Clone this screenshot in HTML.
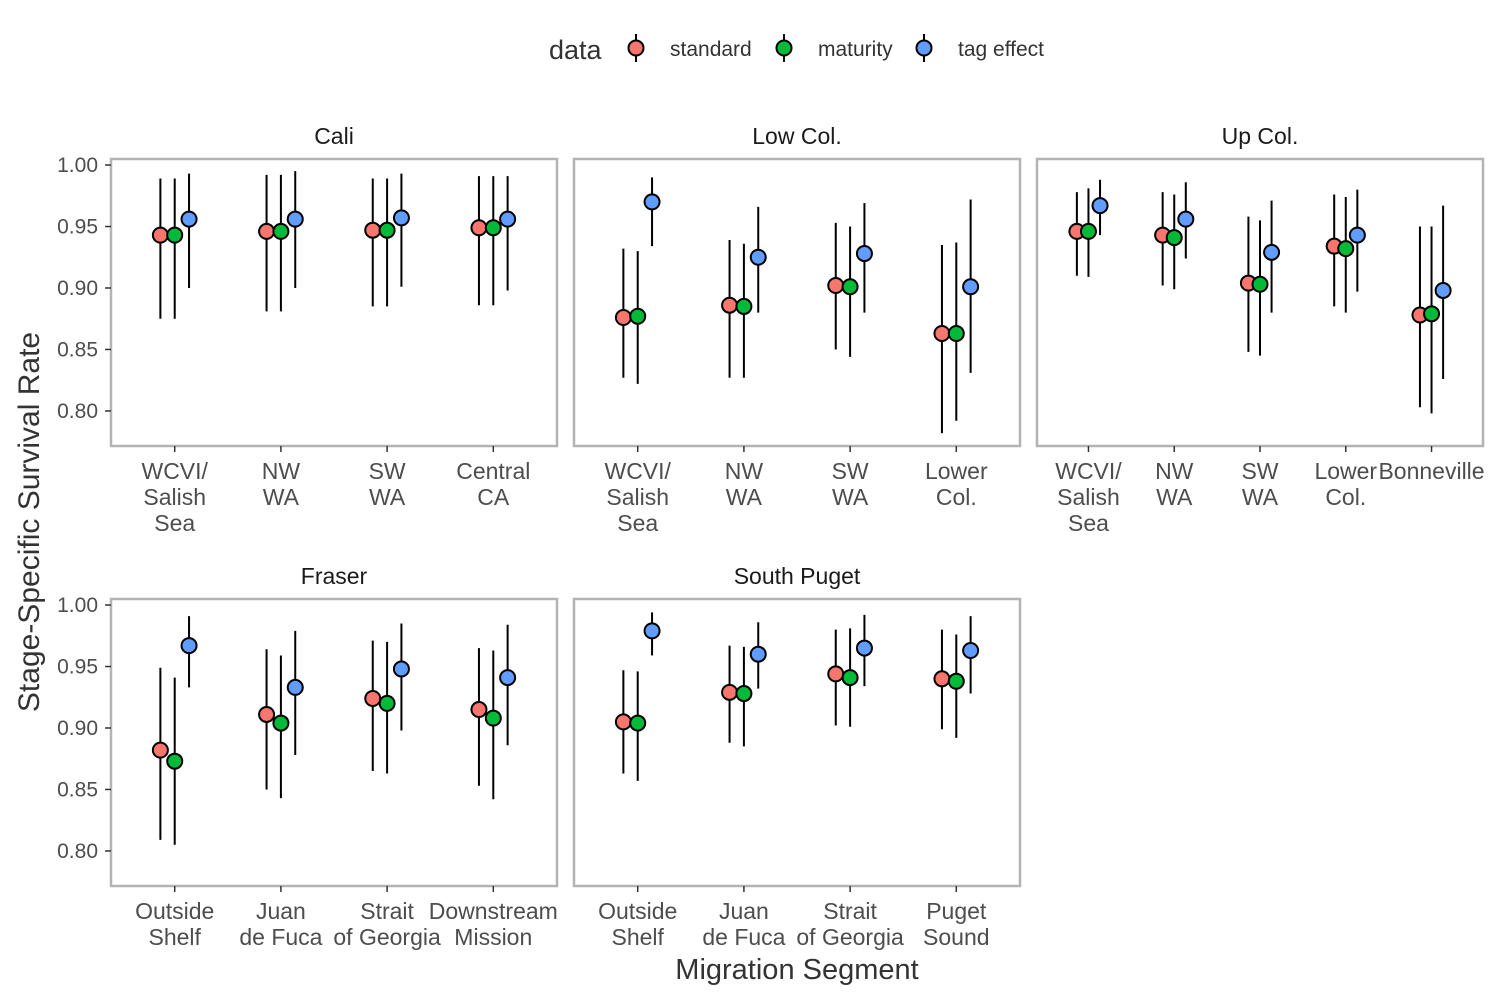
<!DOCTYPE html>
<html><head><meta charset="utf-8"><style>
body{margin:0;background:#fff;}
svg{display:block;font-family:"Liberation Sans",sans-serif;}
</style></head><body>
<svg id="chart" width="1500" height="1000"></svg>
<script>
const seriesNames=["standard","maturity","tag effect"];
const seriesColors=["#F8766D","#00BA38","#619CFF"];
const panelTitles=["Cali","Low Col.","Up Col.","Fraser","South Puget"];
const panelCategories=[
 [["WCVI/","Salish","Sea"],["NW","WA"],["SW","WA"],["Central","CA"]],
 [["WCVI/","Salish","Sea"],["NW","WA"],["SW","WA"],["Lower","Col."]],
 [["WCVI/","Salish","Sea"],["NW","WA"],["SW","WA"],["Lower","Col."],["Bonneville"]],
 [["Outside","Shelf"],["Juan","de Fuca"],["Strait","of Georgia"],["Downstream","Mission"]],
 [["Outside","Shelf"],["Juan","de Fuca"],["Strait","of Georgia"],["Puget","Sound"]]
];
const caliValues=[
 [[0.943,0.875,0.989],[0.943,0.875,0.989],[0.956,0.900,0.993]],
 [[0.946,0.881,0.992],[0.946,0.881,0.992],[0.956,0.900,0.995]],
 [[0.947,0.885,0.989],[0.947,0.885,0.989],[0.957,0.901,0.993]],
 [[0.949,0.886,0.991],[0.949,0.886,0.991],[0.956,0.898,0.991]]];
const lowColValues=[
 [[0.876,0.827,0.932],[0.877,0.822,0.930],[0.970,0.934,0.990]],
 [[0.886,0.827,0.939],[0.885,0.827,0.936],[0.925,0.880,0.966]],
 [[0.902,0.850,0.953],[0.901,0.844,0.950],[0.928,0.880,0.969]],
 [[0.863,0.782,0.935],[0.863,0.792,0.937],[0.901,0.831,0.972]]];
const upColValues=[
 [[0.946,0.910,0.978],[0.946,0.909,0.981],[0.967,0.943,0.988]],
 [[0.943,0.902,0.978],[0.941,0.899,0.976],[0.956,0.924,0.986]],
 [[0.904,0.848,0.958],[0.903,0.845,0.955],[0.929,0.880,0.971]],
 [[0.934,0.885,0.976],[0.932,0.880,0.974],[0.943,0.897,0.980]],
 [[0.878,0.803,0.950],[0.879,0.798,0.950],[0.898,0.826,0.967]]];
const fraserValues=[
 [[0.882,0.809,0.949],[0.873,0.805,0.941],[0.967,0.933,0.991]],
 [[0.911,0.850,0.964],[0.904,0.843,0.959],[0.933,0.878,0.979]],
 [[0.924,0.865,0.971],[0.920,0.863,0.970],[0.948,0.898,0.985]],
 [[0.915,0.853,0.965],[0.908,0.842,0.963],[0.941,0.886,0.984]]];
const southPugetValues=[
 [[0.905,0.863,0.947],[0.904,0.857,0.946],[0.979,0.959,0.994]],
 [[0.929,0.888,0.967],[0.928,0.885,0.966],[0.960,0.932,0.986]],
 [[0.944,0.902,0.980],[0.941,0.901,0.981],[0.965,0.934,0.992]],
 [[0.940,0.899,0.980],[0.938,0.892,0.976],[0.963,0.928,0.991]]];
const panelValues=[caliValues,lowColValues,upColValues,fraserValues,southPugetValues];
const yTicks=[0.80,0.85,0.90,0.95,1.00];
const yTickLabels=["0.80","0.85","0.90","0.95","1.00"];

const NS="http://www.w3.org/2000/svg";
const svg=document.getElementById("chart");
function mk(tag,attrs,parent){const e=document.createElementNS(NS,tag);for(const k in attrs)e.setAttribute(k,attrs[k]);(parent||svg).appendChild(e);return e;}
const panelX=[111,574,1037,111,574], panelY=[159,159,159,599,599], PW=446, PH=287;
const yMin=0.7715,yMax=1.0049;
panelTitles.forEach((t,p)=>{
 const g=mk("g",{});
 
 
 const x0=panelX[p],y0=panelY[p];
 const yS=v=>y0+PH*(yMax-v)/(yMax-yMin);
 const cats=panelCategories[p],n=cats.length,sp=PW/(n+0.2);
 const xS=i=>x0+sp*(0.6+i);
 const st=mk("text",{x:x0+PW/2,y:y0-15,"text-anchor":"middle","font-size":23,fill:"#1a1a1a"},g);
 st.textContent=t;
 
 
 const r=mk("rect",{x:x0,y:y0,width:PW,height:PH,fill:"none",stroke:"#b3b3b3","stroke-width":2.5},g);
 
 
 if(p===0||p===3){
  yTicks.forEach((v,i)=>{
   mk("line",{x1:x0-6,x2:x0,y1:yS(v),y2:yS(v),stroke:"#333","stroke-width":1.5},g);
   const tl=mk("text",{x:x0-13,y:yS(v)+7,"text-anchor":"end","font-size":21,fill:"#4d4d4d"},g);
   tl.textContent=yTickLabels[i];
   
   
  });
 }
 const dod=sp*0.135;
 cats.forEach((lines,i)=>{
  mk("line",{x1:xS(i),x2:xS(i),y1:y0+PH,y2:y0+PH+6,stroke:"#333","stroke-width":1.5},g);
  lines.forEach((ln,j)=>{
   const tl=mk("text",{x:xS(i),y:y0+PH+33+26*j,"text-anchor":"middle","font-size":23,fill:"#4d4d4d"},g);
   tl.textContent=ln;
   
   
  });
  panelValues[p][i].forEach((d,s)=>{
   const cx=xS(i)+(s-1)*dod;
   const l=mk("line",{x1:cx,x2:cx,y1:yS(d[1]),y2:yS(d[2]),stroke:"#000","stroke-width":2},g);
   
   
  });
  panelValues[p][i].forEach((d,s)=>{
   const cx=xS(i)+(s-1)*dod;
   const c=mk("circle",{cx:cx,cy:yS(d[0]),r:7.5,fill:seriesColors[s],stroke:"#000","stroke-width":2},g);
   
   
  });
 });
});
const yt=mk("text",{x:0,y:0,transform:"translate(39,522) rotate(-90)","text-anchor":"middle","font-size":30,fill:"#333"});
yt.textContent="Stage-Specific Survival Rate";


const xt=mk("text",{x:797,y:979,"text-anchor":"middle","font-size":29,fill:"#333"});
xt.textContent="Migration Segment";


const lg=mk("g",{});


const lt=mk("text",{x:549,y:59,"font-size":27,fill:"#333"},lg);
lt.textContent="data";


const lx=[636,784,924];
seriesNames.forEach((s,i)=>{
 const e=mk("g",{},lg);
 
 
 mk("line",{x1:lx[i],x2:lx[i],y1:34,y2:62,stroke:"#000","stroke-width":2},e);
 mk("circle",{cx:lx[i],cy:48,r:7.5,fill:seriesColors[i],stroke:"#000","stroke-width":2},e);
 const t=mk("text",{x:lx[i]+34,y:56,"font-size":21,fill:"#333"},e);
 t.textContent=s;
});
</script>
</body></html>
